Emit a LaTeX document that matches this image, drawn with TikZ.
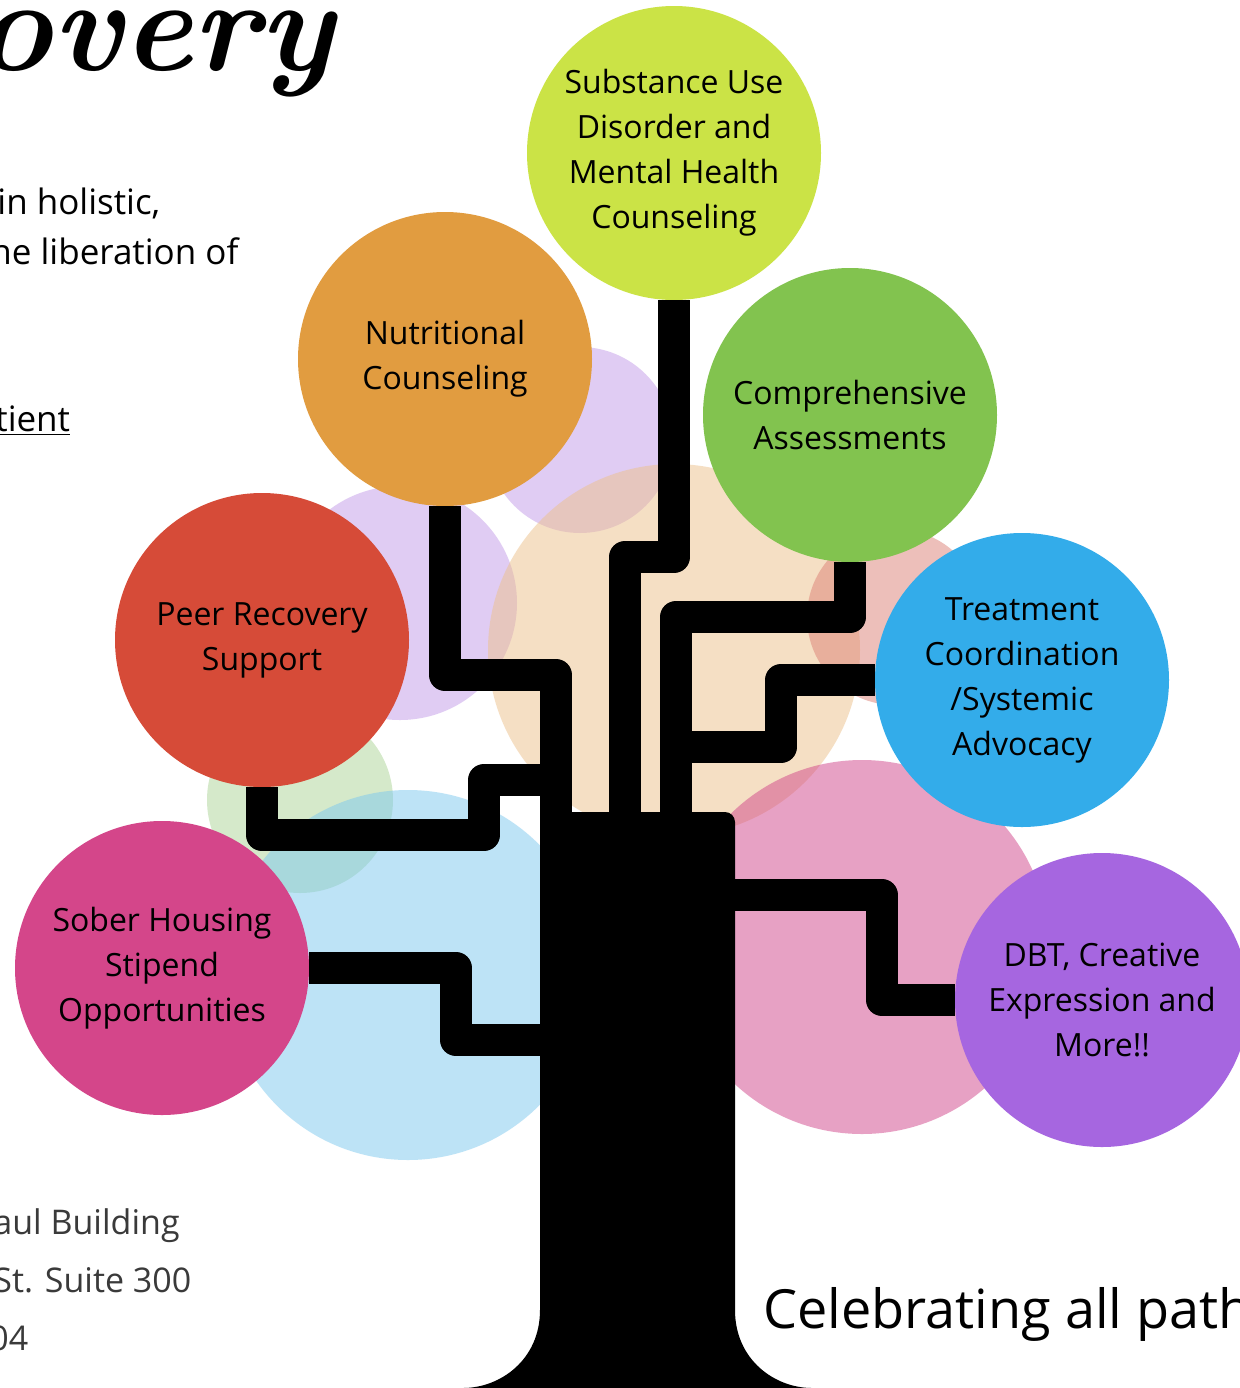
\documentclass[tikz,border=0pt]{standalone}
\usepackage{fontspec}
\newfontfamily\circfont{Open Sans}
\usetikzlibrary{positioning}
\definecolor{lime}{HTML}{CBE346}
\definecolor{carrot}{HTML}{E19C40}
\definecolor{leaf}{HTML}{82C34F}
\definecolor{brick}{HTML}{D64B38}
\definecolor{azure}{HTML}{33ACEA}
\definecolor{berry}{HTML}{D4468A}
\definecolor{violet}{HTML}{A666E0}
\definecolor{lavender}{HTML}{C39BE8}
\definecolor{peach}{HTML}{EDC18B}
\definecolor{salmon}{HTML}{DD8176}
\definecolor{mint}{HTML}{ACD597}
\definecolor{sky}{HTML}{7DC8EF}
\definecolor{rose}{HTML}{D1458A}
\definecolor{ink}{HTML}{3A3A3A}

\begin{document}
\begin{tikzpicture}[x=0.5pt,y=-0.5pt,
		bub/.style={circle,minimum size=147pt,inner sep=0pt,align=center,font=\circfont\fontsize{16}{22.5}\selectfont},
		branch/.style={line width=16pt,line join=round},
		haze/.style={fill opacity=0.5},
		blurb/.style={anchor=base west,inner sep=0pt,font=\circfont\fontsize{17.5}{20}\selectfont}]
				\useasboundingbox (0,0) rectangle (1240,1388);
				\clip (0,0) rectangle (1240,1388);
				\fill[white] (0,0) rectangle (1240,1388);
				
				\fill[lavender,haze] (580,440) circle (93);
				\fill[lavender,haze] (400,603) circle (117);
				\fill[peach,haze] (674,650) circle (186);
				\fill[salmon,haze] (895,617) circle (88);
				\fill[mint,haze] (300,800) circle (93);
				\fill[sky,haze] (408,975) circle (185);
				\fill[rose,haze] (862,947) circle (187);
				
				\node[bub,fill=lime] (sud) at (674,153) {Substance Use\\Disorder and\\Mental Health\\Counseling};
				\node[bub,fill=carrot] (nut) at (445,359) {Nutritional\\Counseling};
				\node[bub,fill=leaf] (comp) at (850,415) {Comprehensive\\Assessments};
				\node[bub,fill=brick] (peer) at (262,640) {Peer Recovery\\Support};
				\node[bub,fill=azure] (treat) at (1022,680) {Treatment\\Coordination\\/Systemic\\Advocacy};
				\node[bub,fill=berry] (sober) at (162,968) {Sober Housing\\Stipend\\Opportunities};
				\node[bub,fill=violet] (dbt) at (1102,1000) {DBT, Creative\\Expression and\\More!!};
				
				\coordinate (sudend) at (625,830);
				\coordinate (nutend) at (556,830);
				\coordinate (compend) at (676,830);
				\coordinate (treatend) at (676,747);
				\coordinate (peerend) at (556,780);
				\coordinate (soberend) at (560,1040);
				\coordinate (dbtend) at (720,895);
				
				\draw[branch] (sud.south) |- (625,557) -- (sudend);
				\draw[branch] (nut.south) |- (556,675) -- (nutend);
				\draw[branch] (comp.south) |- (676,617) -- (compend);
				\draw[branch] (treat.west) -| (781,747) -- (treatend);
				\draw[branch] (peer.south) |- (484,835) |- (peerend);
				\draw[branch] (sober.east) -| (456,1040) -- (soberend);
				\draw[branch] (dbtend) -| (882,1000) -- (dbt.west);
				
				\fill[rounded corners=5pt] (540,812) -- (735,812) -- (735,1300)
					.. controls (735,1360) and (775,1388) .. (822,1388) -- (453,1388)
					.. controls (500,1388) and (540,1360) .. (540,1300) -- cycle;
				
				\node[anchor=base west,inner sep=0pt,font=\bfseries\itshape\fontsize{66}{72}\selectfont] (title) at (-26,70) {overy};
				\node[blurb] (mission1) at (-3,214) {in holistic,};
				\node[blurb] (mission2) at (-10,264) {he liberation of};
				\node[blurb] (mission3) at (-5,431) {\underline{tient}};
				
				\node[blurb,text=ink,font=\circfont\fontsize{17}{20}\selectfont] (addr1) at (-7,1234) {aul Building};
				\node[blurb,text=ink,font=\circfont\fontsize{17}{20}\selectfont] (addr2) at (-7,1292) {St. Suite 300};
				\node[blurb,text=ink,font=\circfont\fontsize{17}{20}\selectfont] (addr3) at (-11,1350) {04};
				\node[blurb,font=\circfont\fontsize{27}{30}\selectfont] (motto) at (763,1328) {Celebrating all path};
			\end{tikzpicture}
\end{document}
